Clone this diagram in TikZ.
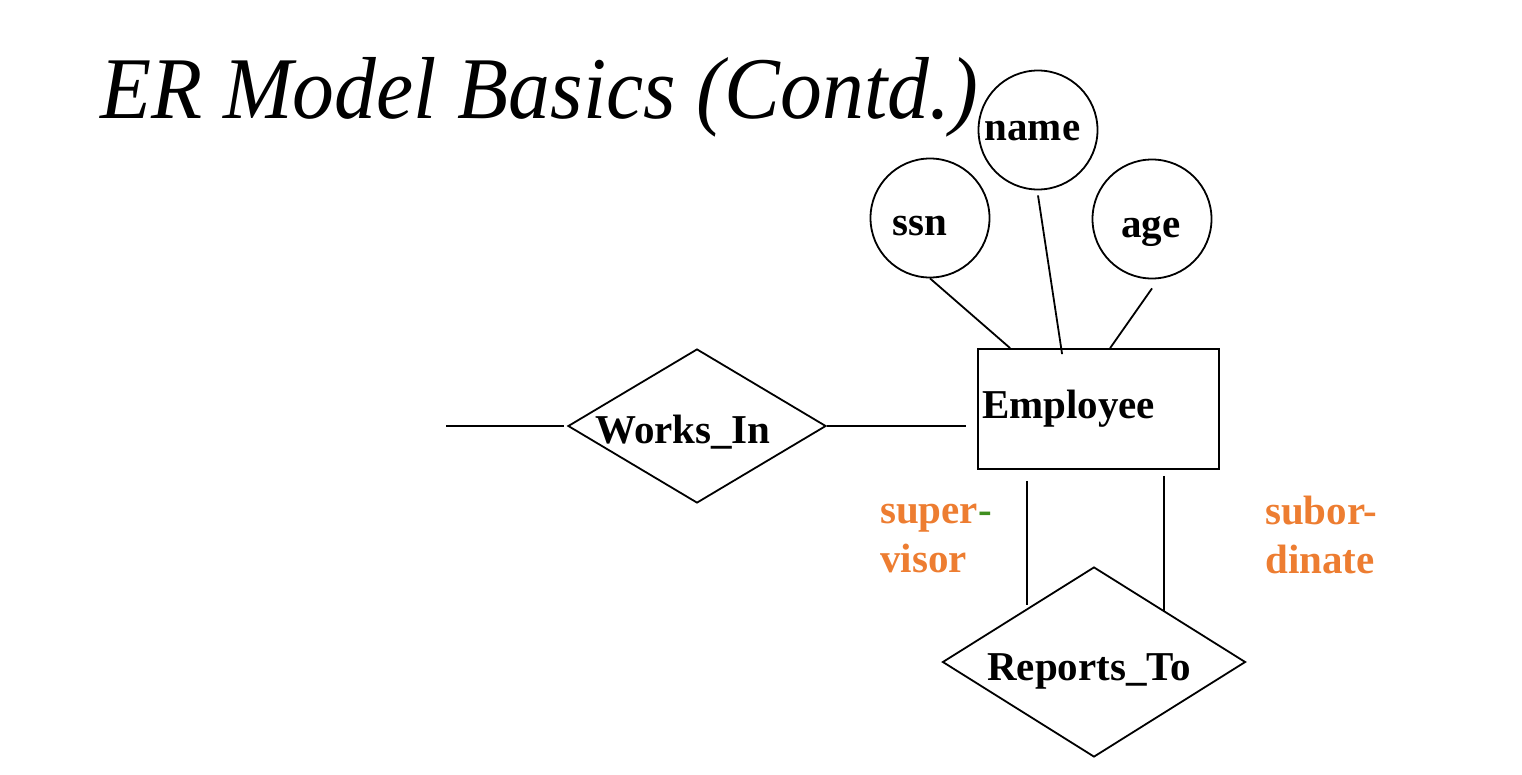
\documentclass[tikz,border=0pt]{standalone}
\usepackage{fontspec}
\setmainfont{Liberation Serif}
\usetikzlibrary{shapes.geometric,calc}
\definecolor{lblorange}{HTML}{ED7D31}
\definecolor{lblgreen}{HTML}{3F8F1F}
% #1 = horizontal shift of text centre, #2 = baseline distance below node centre
\newcommand{\placetext}[3]{\raisebox{-#2}[0pt][0pt]{\makebox[0pt]{\hspace*{#1}\hspace*{#1}#3}}}
\begin{document}
\begin{tikzpicture}[x=1pt,y=-1pt,
  every node/.style={font=\fontsize{41}{49}\selectfont\bfseries},
  conn/.style={draw, line width=1.8pt},
  attrib/.style={circle, draw, line width=1.8pt, minimum size=119pt, inner sep=0pt},
  entity/.style={rectangle, draw, line width=1.8pt, minimum width=241pt, minimum height=120pt, text width=233pt, inner xsep=4pt, align=left},
  relship/.style={diamond, draw, line width=1.8pt, inner sep=0pt, aspect=1.6},
  rolelabel/.style={text=lblorange, align=left, anchor=base west, inner sep=0pt}
]
\useasboundingbox (0,0) rectangle (1522,774);

\node[anchor=base west, inner sep=0pt, font=\fontsize{88}{100}\selectfont\itshape] (title) at (100,118)
  {\scalebox{0.95}[1]{ER Model Basics (Contd.)}};

\node[attrib] (name) at (1038,130) {\placetext{-5.5pt}{10pt}{name}};
\node[attrib] (ssn) at (930,218) {\placetext{-10pt}{17pt}{ssn}};
\node[attrib] (age) at (1152,219) {\placetext{-1pt}{18pt}{age}};

\node[entity] (emp) at (1098.5,409) {Employee};

\node[relship, minimum width=258pt, minimum height=154pt] (wi) at (697,426) {\placetext{-14pt}{17pt}{Works\_In}};
\node[relship, minimum width=303pt, minimum height=190pt] (rt) at (1094,662) {\placetext{-5pt}{18pt}{Reports\_To}};

\coordinate (wiend) at (446,426);

\draw[conn] (ssn.south) -- ([xshift=33pt]emp.north west);
\draw[conn] ([yshift=-5pt]name.south) -- ([xshift=85pt,yshift=-6pt]emp.north west);
\draw[conn] ([yshift=-9pt]age.south) -- ([xshift=133pt]emp.north west);

\draw[conn] (wiend) -- ([xshift=-3pt]wi.west);
\draw[conn] (wi.east) -- ([xshift=-11pt]wi.east -| emp.west);

\draw[conn] ([xshift=-71.5pt,yshift=-11pt]emp.south) -- ([xshift=-67pt,yshift=-39pt]rt.north);
\draw[conn] ([xshift=65.5pt,yshift=-6pt]emp.south) -- ([xshift=70pt,yshift=-46pt]rt.north);

\node[rolelabel] (sup) at (880,572) {super\textcolor{lblgreen}{-}\\visor};
\node[rolelabel] (sub) at (1265,573) {subor-\\dinate};
\end{tikzpicture}
\end{document}
